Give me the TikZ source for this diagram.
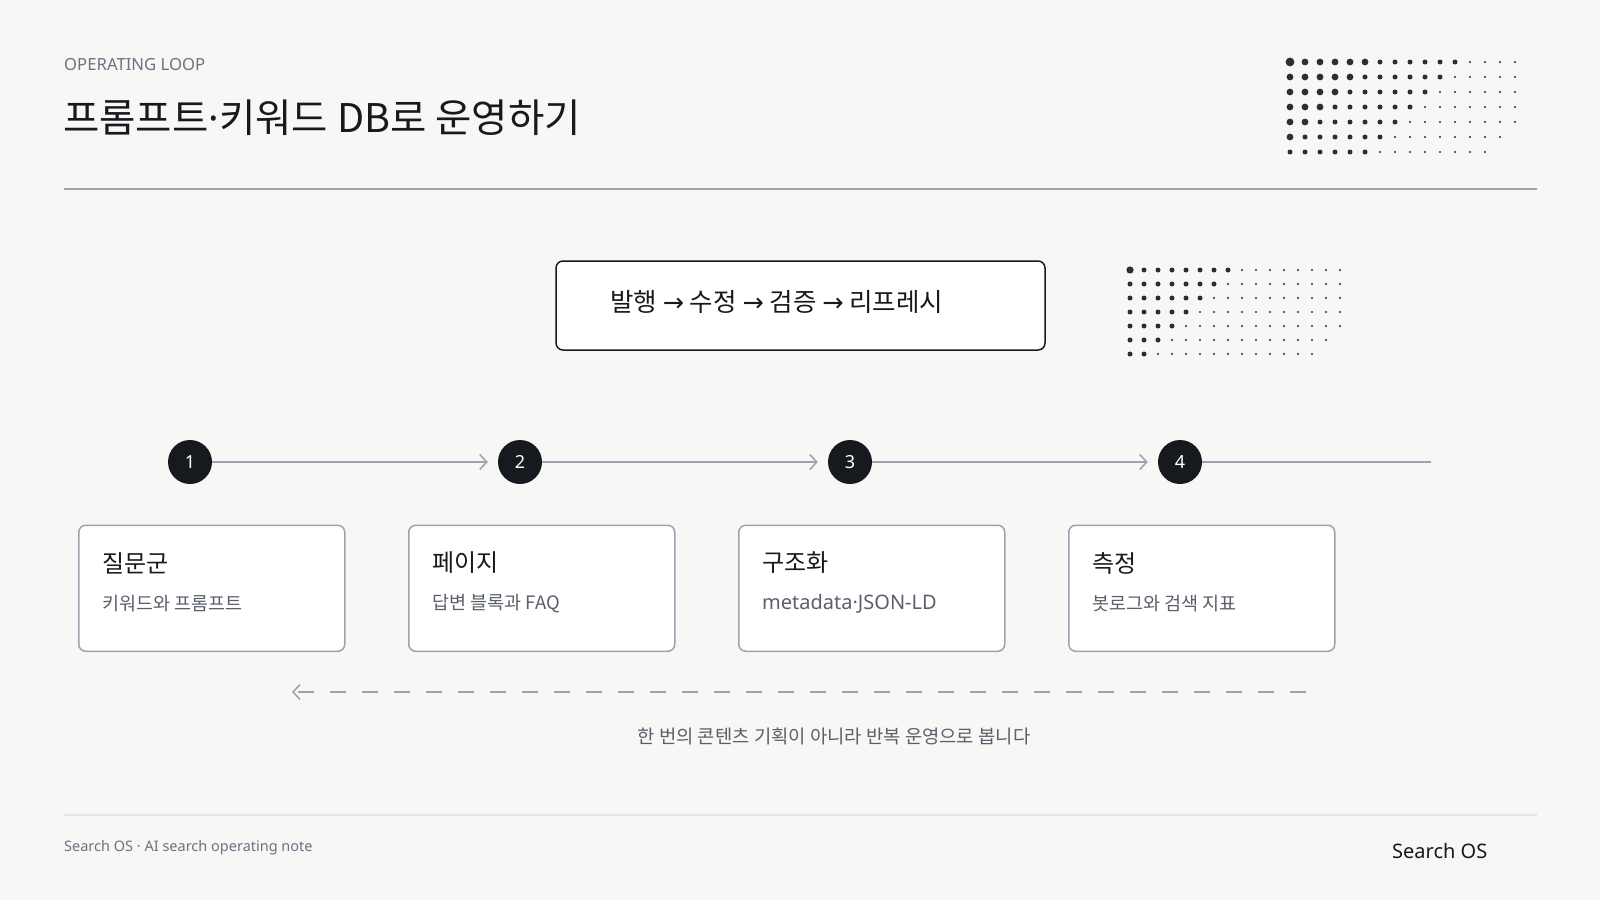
\documentclass[tikz,border=0pt]{standalone}
\usepackage{fontspec}
\setmainfont{Noto Sans CJK KR}
\newfontfamily\latin{Noto Sans}
\newfontfamily\arrowfont{DejaVu Sans}
\usetikzlibrary{arrows.meta,positioning}
\definecolor{paper}{HTML}{F7F7F5}
\definecolor{ink}{HTML}{16191D}
\definecolor{dotink}{HTML}{2B2E33}
\definecolor{rule}{HTML}{9CA3AF}
\definecolor{faint}{HTML}{E3E5E8}
\definecolor{muted}{HTML}{6B7280}
\definecolor{subtext}{HTML}{5A606A}
\newcommand{\nextstep}{{\arrowfont →}}

\begin{document}
\begin{tikzpicture}[x=1pt,y=-1pt,
        txt/.style={inner sep=0pt,anchor=west},
        stepdot/.style={circle,fill=ink,minimum size=44pt,inner sep=0pt,text=white,font=\latin\fontsize{18}{20}\selectfont},
        barb/.tip={Straight Barb[length=7pt,width=15pt,line width=1.5pt]},
        flow/.style={draw=rule,line width=2pt,-barb,shorten >=10pt},
        back/.style={draw=rule,line width=2pt,dash pattern=on 16pt off 16pt,-barb},
        card/.style={draw=rule,line width=1.5pt,fill=white,rounded corners=7pt,minimum width=266pt,minimum height=126pt},
        cardhead/.style={txt,text=ink,font=\fontsize{24}{28}\selectfont},
        cardsub/.style={txt,text=subtext,font=\fontsize{18.5}{22}\selectfont}]
    \fill[paper] (0,0) rectangle (1600,900);
    \useasboundingbox (0,0) rectangle (1600,900);

    \node[txt,text=muted,font=\latin\fontsize{16.7}{19}\selectfont] (kicker) at (64,65) {OPERATING LOOP};
    \node[txt,text=ink,font=\fontsize{39.5}{44}\selectfont] (title) at (63,118) {프롬프트{\latin ·}키워드 DB로 운영하기};
    \draw[rule,line width=2pt] (64,189) -- (1537,189);

    \foreach \i in {0,...,15}
        \foreach \j in {0,...,6}{
            \pgfmathtruncatemacro\s{\i+\j}
            \ifnum\s<20
                \pgfmathsetmacro\r{\s==0 ? 4.4 : (\s<6 ? 3.4 : (\s<12 ? 2.5 : 1.1))}
                \fill[dotink] (1290+15*\i,62+15*\j) circle (\r pt);
                \pgfmathsetmacro\r{\s==0 ? 3.6 : (\s<8 ? 2.5 : 1.1)}
                \fill[dotink] (1130+14*\i,270+14*\j) circle (\r pt);
            \fi
        }

    \node[draw=ink,line width=1.5pt,fill=white,rounded corners=7pt,minimum width=489pt,minimum height=89pt] (loop) at (800.5,305.5) {};
    \node[txt,text=ink,font=\fontsize{25.5}{30}\selectfont] (looptext) at (610,302) {발행 \nextstep{} 수정 \nextstep{} 검증 \nextstep{} 리프레시};

    \foreach \k/\x in {1/190,2/520,3/850,4/1180}
        \node[stepdot] (s\k) at (\x,462) {\k};
    \foreach \a/\b in {1/2,2/3,3/4}
        \draw[flow] (s\a) -- (s\b);
    \coordinate (lineend) at (1431,462);
    \draw[rule,line width=2pt] (s4) -- (lineend);

    \foreach \k/\h/\d in {1/질문군/키워드와 프롬프트,2/페이지/답변 블록과 FAQ,3/구조화/{\latin\fontsize{20}{24}\selectfont metadata·JSON-LD},4/측정/봇로그와 검색 지표}{
        \node[card] (c\k) at (211.75+330*\k-330,588.25) {};
        \node[cardhead] (h\k) at ([shift={(24,38.5)}]c\k.north west) {\h};
        \node[cardsub] (d\k) at ([shift={(24,79)}]c\k.north west) {\d};
    }

    \coordinate (backR) at (1306,692); \coordinate (backL) at (292,692);
    \draw[back] (backR) -- (backL);
    \node[text=subtext,inner sep=0pt,font=\fontsize{18.8}{22}\selectfont] (caption) at (834,736) {한 번의 콘텐츠 기획이 아니라 반복 운영으로 봅니다};

    \draw[faint,line width=2pt] (64,815) -- (1537,815);
    \node[txt,text=muted,font=\latin\fontsize{14.5}{17}\selectfont] (foot) at (64,848) {Search OS · AI search operating note};
    \node[txt,text=ink,font=\latin\fontsize{20}{24}\selectfont] (brand) at (1392,851) {Search OS};
\end{tikzpicture}
\end{document}
